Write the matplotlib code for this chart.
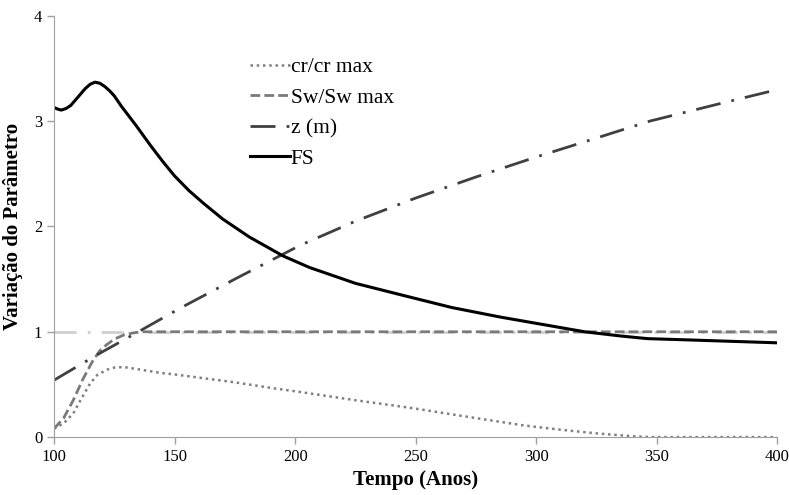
import numpy as np
import matplotlib.pyplot as plt

plt.rcParams['font.family'] = ['Liberation Serif', 'DejaVu Serif']

# tempo (anos) and curves
t_fs = [100, 101.5, 103, 105, 107, 110, 113, 115, 117, 119, 121, 123, 125, 128, 131,
        134, 140, 145, 150, 156, 162, 170, 181, 195, 206, 225, 244, 265, 285, 300,
        320, 335, 346, 360, 380, 400]
fs = [3.13, 3.115, 3.105, 3.12, 3.15, 3.23, 3.31, 3.35, 3.37, 3.36, 3.33, 3.29, 3.24,
      3.14, 3.05, 2.96, 2.77, 2.62, 2.48, 2.34, 2.22, 2.07, 1.9, 1.72, 1.61, 1.46,
      1.35, 1.23, 1.14, 1.08, 1.0, 0.96, 0.935, 0.925, 0.91, 0.895]

t_z = [100, 117, 135, 152, 175, 202, 225, 250, 275, 300, 325, 347, 375, 400]
z = [0.54, 0.77, 1.0, 1.22, 1.5, 1.82, 2.05, 2.27, 2.47, 2.66, 2.84, 3.0, 3.16, 3.3]

t_sw = [100, 104, 108, 112, 116, 119, 122, 125, 129, 133, 137, 400]
sw = [0.08, 0.18, 0.35, 0.55, 0.72, 0.82, 0.88, 0.93, 0.97, 0.99, 1.0, 1.0]

t_cr = [100, 104, 108, 111, 115, 118, 122, 125, 129, 136, 144, 150, 175, 192, 200,
        225, 244, 250, 275, 295, 310, 325, 340, 347, 400]
cr = [0.08, 0.13, 0.225, 0.35, 0.51, 0.59, 0.64, 0.66, 0.665, 0.64, 0.61, 0.595,
      0.52, 0.46, 0.435, 0.35, 0.29, 0.27, 0.18, 0.11, 0.07, 0.035, 0.008, 0.0, 0.0]

fig = plt.figure(figsize=(7.89, 4.95), dpi=100)
ax = fig.add_axes([0.0684, 0.117, 0.917, 0.851])

# light reference line at 1
ax.plot([100, 400], [1, 1], color='#cfcfcf', lw=2, linestyle=(0, (8, 4, 1, 4)))

ax.plot(t_cr, cr, color='#7f7f7f', lw=1.8, linestyle=(0, (1, 1.5)), label='cr/cr max')
ax.plot(t_sw, sw, color='#7a7a7a', lw=2, linestyle=(0, (3.5, 1.5)), label='Sw/Sw max')
ax.plot(t_z, z, color='#404040', lw=2, linestyle=(0, (9, 4, 1, 4)), label='z (m)')
ax.plot(t_fs, fs, color='black', lw=2.2, label='FS')

ax.set_xlim(100, 400)
ax.set_ylim(0, 4)
ax.set_xticks([100, 150, 200, 250, 300, 350, 400])
ax.set_yticks([0, 1, 2, 3, 4])
ax.tick_params(labelsize=12, color='#a0a0a0', length=5, width=1)
for s in ['top', 'right']:
    ax.spines[s].set_visible(False)
for s in ['left', 'bottom']:
    ax.spines[s].set_color('#a0a0a0')

ax.set_xlabel('Tempo (Anos)', fontsize=15, fontweight='bold', labelpad=4)
ax.set_ylabel('Variação do Parâmetro', fontsize=15, fontweight='bold', labelpad=8)

ax.legend(loc='upper left', bbox_to_anchor=(0.259, 0.922), frameon=False,
          fontsize=15.5, handlelength=1.85, handletextpad=0.05, labelspacing=0.48,
          borderaxespad=0)

fig.savefig('out.png', dpi=100)
